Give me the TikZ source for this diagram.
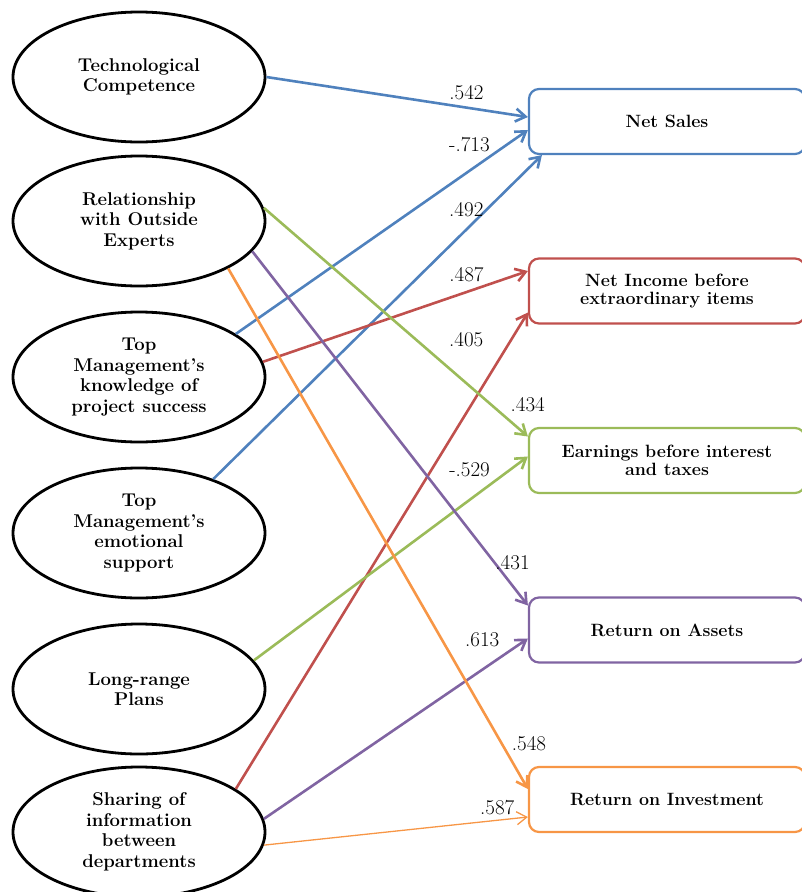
\documentclass[tikz,border=0pt]{standalone}
\usepackage{tikz}
\usetikzlibrary{shapes.geometric,positioning,arrows.meta}

\definecolor{accblue}{HTML}{4F81BD}
\definecolor{accred}{HTML}{C0504D}
\definecolor{accgreen}{HTML}{9BBB59}
\definecolor{accpurple}{HTML}{8064A2}
\definecolor{accorange}{HTML}{F79646}

\tikzset{
    construct/.style={ellipse,draw,line width=2.8pt,minimum width=252pt,minimum height=130pt,
        inner sep=0pt,align=center,font=\fontsize{18.5}{20.5}\selectfont\bfseries},
    outcome/.style={draw,rounded corners=10pt,line width=2.2pt,minimum width=276pt,minimum height=65pt,
        inner sep=0pt,align=center,font=\fontsize{17.8}{18.5}\selectfont\bfseries},
    coef/.style={text=black,font=\fontsize{21}{22}\selectfont}
}

\begin{document}
\begin{tikzpicture}[x=1pt,y=-1pt,>={Straight Barb[length=10pt,width=13pt]}]
    \useasboundingbox (0,0) rectangle (802,892);
    % Predictors
    \node[construct] (tech) at (139,77) {Technological\\Competence};
    \node[construct,node distance=144pt,below of=tech] (experts) {Relationship\\with Outside\\Experts};
    \node[construct,node distance=156pt,below of=experts] (know) {Top\\Management's\\knowledge of\\project success};
    \node[construct,node distance=156pt,below of=know] (emot) {Top\\Management's\\emotional\\support};
    \node[construct,node distance=156pt,below of=emot] (plans) {Long-range\\Plans};
    \node[construct,node distance=143pt,below of=plans] (share) {Sharing of\\information\\between\\departments};

    % Outcomes
    \node[outcome,draw=accblue] (sales) at (667,121.5) {Net Sales};
    \node[outcome,draw=accred,node distance=169.5pt,below of=sales] (income) {Net Income before\\extraordinary items};
    \node[outcome,draw=accgreen,node distance=169.5pt,below of=income] (ebit) {Earnings before interest\\and taxes};
    \node[outcome,draw=accpurple,node distance=169.5pt,below of=ebit] (roa) {Return on Assets};
    \node[outcome,draw=accorange,node distance=169.5pt,below of=roa] (roi) {Return on Investment};

    \path[->,line width=2.6pt]
        (tech.east) edge[draw=accblue] node[coef,pos=.765,yshift=15pt]{.542} ([yshift=4.5pt]sales.west)
        (know.24) edge[draw=accblue] node[coef,pos=.80,yshift=26pt]{-.713} ([yshift=-8.5pt]sales.west)
        (emot.36) edge[draw=accblue] node[coef,pos=.77,yshift=20pt]{.492} ([xshift=14pt]sales.south west)
        (know.7) edge[draw=accred] node[coef,pos=.768,yshift=17.5pt]{.487} ([yshift=20pt]income.west)
        (share.24) edge[draw=accred] node[coef,pos=.943,xshift=-45pt]{.405} ([yshift=-21.5pt]income.west)
        (experts.6) edge[draw=accgreen] node[coef,pos=.95,xshift=13pt,yshift=20.5pt]{.434} ([yshift=24pt]ebit.west)
        (plans.14) edge[draw=accgreen] node[coef,pos=.787,yshift=30pt]{-.529} ([yshift=4pt]ebit.west)
        (experts.-15) edge[draw=accpurple] node[coef,pos=.879,xshift=18pt]{.431} ([yshift=24.5pt]roa.west)
        (share.6) edge[draw=accpurple] node[coef,pos=.827,yshift=30pt]{.613} ([yshift=-8.5pt]roa.west)
        (experts.-28) edge[draw=accorange] node[coef,pos=.912,xshift=27.5pt]{.548} ([yshift=10.5pt]roi.west)
        (share.-6) edge[draw=accorange,line width=1.3pt] node[coef,pos=.884,yshift=13pt]{.587} ([yshift=-17.5pt]roi.west);
\end{tikzpicture}
\end{document}
